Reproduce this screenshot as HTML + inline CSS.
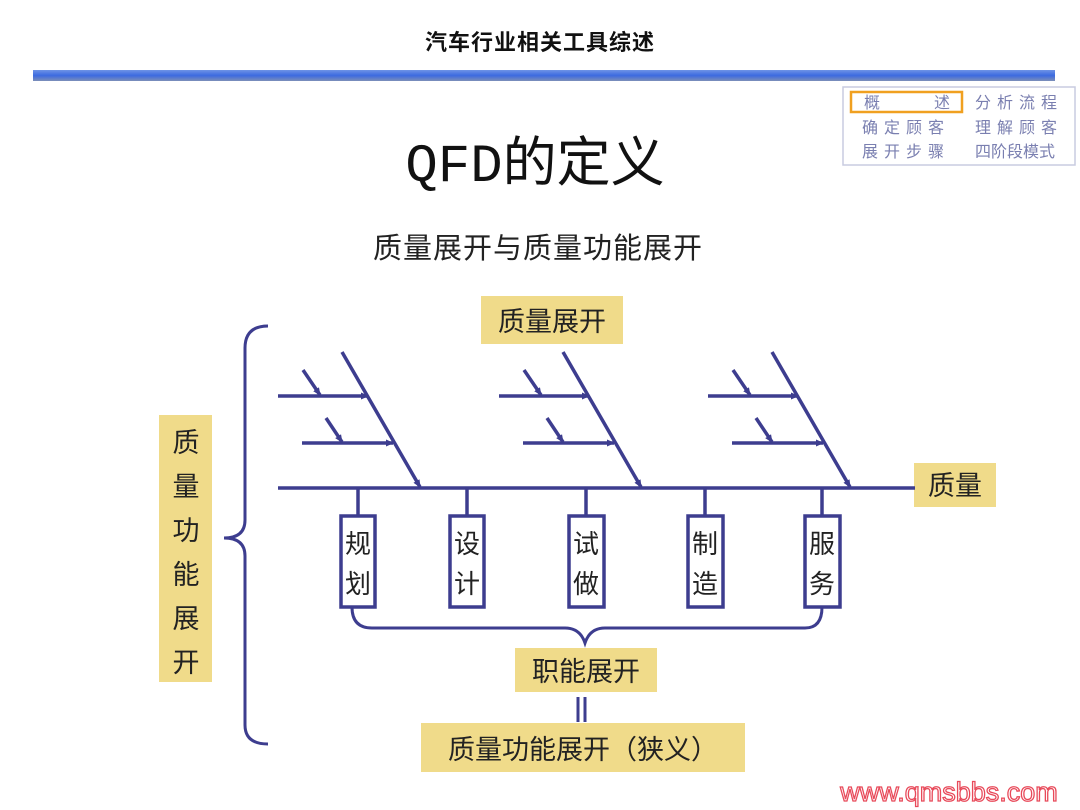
<!DOCTYPE html>
<html><head><meta charset="utf-8"><style>
html,body{margin:0;padding:0;background:#fff;}
svg{display:block;}
text{font-family:"Liberation Sans","Noto Sans CJK SC",sans-serif;}
</style></head><body>
<svg width="1080" height="810" viewBox="0 0 1080 810" xmlns="http://www.w3.org/2000/svg">
<defs>
<linearGradient id="bar" x1="0" y1="0" x2="0" y2="1">
<stop offset="0" stop-color="#6f93e6"/><stop offset="0.5" stop-color="#3c6ae0"/><stop offset="1" stop-color="#7d8fb8"/>
</linearGradient>
<marker id="ah" markerWidth="8" markerHeight="8" refX="7" refY="4" orient="auto" markerUnits="userSpaceOnUse">
<path d="M0,0.5 L8,4 L0,7.5 Z" fill="#3d3d8f"/></marker>
</defs>
<text x="540" y="50" font-size="22" font-weight="bold" text-anchor="middle" fill="#111" letter-spacing="1">汽车行业相关工具综述</text>
<rect x="33" y="70" width="1022" height="11" fill="url(#bar)"/>
<!-- nav -->
<rect x="843" y="87" width="232" height="78" fill="#fff" stroke="#c8cce0" stroke-width="1.5"/>
<rect x="851" y="92" width="111" height="20" fill="none" stroke="#f0a020" stroke-width="2.5"/>
<g font-size="16" fill="#7a7fb0">
<text x="864" y="108">概</text><text x="934" y="108">述</text>
<text x="975" y="108" letter-spacing="6">分析流程</text>
<text x="862" y="133" letter-spacing="6">确定顾客</text>
<text x="975" y="133" letter-spacing="6">理解顾客</text>
<text x="862" y="157" letter-spacing="6">展开步骤</text>
<text x="975" y="157">四阶段模式</text>
</g>
<text x="535" y="181" font-size="54" text-anchor="middle" fill="#111"><tspan font-family="Liberation Mono, monospace">QFD</tspan>的定义</text>
<text x="538" y="258" font-size="29" text-anchor="middle" fill="#222" letter-spacing="1">质量展开与质量功能展开</text>
<!-- yellow boxes -->
<g fill="#f0db8a">
<rect x="481" y="296" width="142" height="48"/>
<rect x="914" y="463" width="82" height="44"/>
<rect x="159" y="415" width="53" height="267"/>
<rect x="515" y="648" width="142" height="44"/>
<rect x="421" y="723" width="324" height="49"/>
</g>
<g font-size="27" fill="#222" text-anchor="middle">
<text x="552" y="331">质量展开</text>
<text x="955" y="495">质量</text>
<text x="586" y="681">职能展开</text>
<text x="583" y="759">质量功能展开（狭义）</text>
<text x="186" y="452">质</text><text x="186" y="496">量</text><text x="186" y="540">功</text>
<text x="186" y="584">能</text><text x="186" y="628">展</text><text x="186" y="672">开</text>
</g>
<g stroke="#3d3d8f" stroke-width="3.5" fill="none">
<line x1="278" y1="488" x2="915" y2="488"/>
<g id="fb">
<line x1="342" y1="352" x2="420" y2="487" marker-end="url(#ah)"/>
<line x1="278" y1="396" x2="368" y2="396" marker-end="url(#ah)"/>
<line x1="302" y1="443" x2="393" y2="443" marker-end="url(#ah)"/>
<line x1="303" y1="370" x2="320" y2="395" marker-end="url(#ah)"/>
<line x1="326" y1="418" x2="342" y2="442" marker-end="url(#ah)"/>
</g>
<use href="#fb" transform="translate(221,0)"/>
<use href="#fb" transform="translate(430,0)"/>
<line x1="358" y1="488" x2="358" y2="515"/>
<line x1="467" y1="488" x2="467" y2="515"/>
<line x1="586" y1="488" x2="586" y2="515"/>
<line x1="705" y1="488" x2="705" y2="515"/>
<line x1="822" y1="488" x2="822" y2="515"/>
<path d="M352,607 Q352,628 372,628 L565,628 Q580,628 585,643 Q590,628 605,628 L805,628 Q822,628 822,607" stroke-width="3"/>
<path d="M268,326 Q245,326 245,348 L245,520 Q245,538 224,538 Q245,538 245,556 L245,725 Q245,744 268,744" stroke-width="3"/>
<line x1="578" y1="697" x2="578" y2="722" stroke-width="3"/>
<line x1="585" y1="697" x2="585" y2="722" stroke-width="3"/>
</g>
<g fill="#fff" stroke="#3d3d8f" stroke-width="3.5">
<rect x="341" y="516" width="34" height="91"/>
<rect x="450" y="516" width="34" height="91"/>
<rect x="569" y="516" width="35" height="91"/>
<rect x="688" y="516" width="35" height="91"/>
<rect x="805" y="516" width="35" height="91"/>
</g>
<g font-size="26" fill="#222" text-anchor="middle">
<text x="358" y="553">规</text><text x="358" y="593">划</text>
<text x="467" y="553">设</text><text x="467" y="593">计</text>
<text x="586" y="553">试</text><text x="586" y="593">做</text>
<text x="705" y="553">制</text><text x="705" y="593">造</text>
<text x="822" y="553">服</text><text x="822" y="593">务</text>
</g>
<text x="949" y="801" font-size="27" text-anchor="middle" fill="#fff" stroke="#e84a5a" stroke-width="1.3">www.qmsbbs.com</text>
</svg>
</body></html>
